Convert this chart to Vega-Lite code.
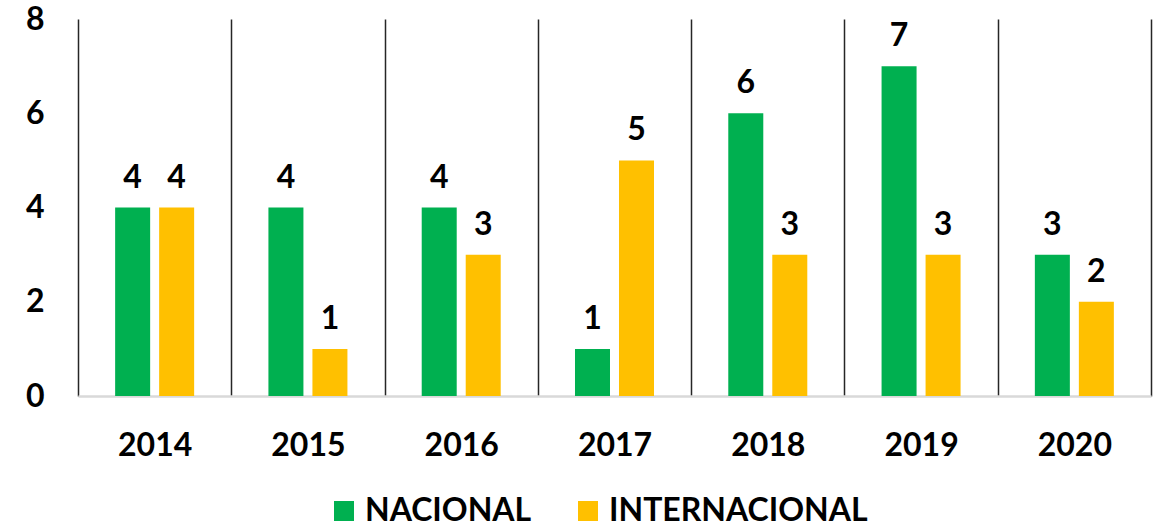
{
  "$schema": "https://vega.github.io/schema/vega-lite/v6.json",
  "width": 1073,
  "height": 377,
  "autosize": {"type": "none"},
  "padding": {"left": 78, "top": 19, "right": 8, "bottom": 133},
  "background": "white",
  "config": {
    "view": {"stroke": null},
    "font": "Lato",
    "axis": {"labelFont": "Lato", "labelFontWeight": "bold", "labelFontSize": 32, "labelColor": "#000000", "title": null}
  },
  "data": {
    "values": [
      {"year": "2014", "tipo": "NACIONAL", "valor": 4},
      {"year": "2014", "tipo": "INTERNACIONAL", "valor": 4},
      {"year": "2015", "tipo": "NACIONAL", "valor": 4},
      {"year": "2015", "tipo": "INTERNACIONAL", "valor": 1},
      {"year": "2016", "tipo": "NACIONAL", "valor": 4},
      {"year": "2016", "tipo": "INTERNACIONAL", "valor": 3},
      {"year": "2017", "tipo": "NACIONAL", "valor": 1},
      {"year": "2017", "tipo": "INTERNACIONAL", "valor": 5},
      {"year": "2018", "tipo": "NACIONAL", "valor": 6},
      {"year": "2018", "tipo": "INTERNACIONAL", "valor": 3},
      {"year": "2019", "tipo": "NACIONAL", "valor": 7},
      {"year": "2019", "tipo": "INTERNACIONAL", "valor": 3},
      {"year": "2020", "tipo": "NACIONAL", "valor": 3},
      {"year": "2020", "tipo": "INTERNACIONAL", "valor": 2}
    ]
  },
  "encoding": {
    "x": {
      "field": "year", "type": "nominal",
      "scale": {"paddingInner": 0, "paddingOuter": 0},
      "axis": {
        "labelAngle": 0, "grid": true, "tickBand": "extent", "gridColor": "#262626", "gridWidth": 1.5,
        "ticks": false, "domainColor": "#d9d9d9", "domainWidth": 2.5, "labelPadding": 34
      }
    },
    "xOffset": {
      "field": "tipo", "type": "nominal", "sort": ["NACIONAL", "INTERNACIONAL"],
      "scale": {"paddingInner": 0.2045, "paddingOuter": 0.844}
    },
    "y": {
      "field": "valor", "type": "quantitative",
      "scale": {"domain": [0, 8], "nice": false},
      "axis": {"values": [0, 2, 4, 6, 8], "grid": false, "domain": false, "ticks": false, "labelPadding": 34}
    }
  },
  "layer": [
    {
      "mark": {"type": "bar"},
      "encoding": {
        "color": {
          "field": "tipo", "type": "nominal",
          "scale": {"domain": ["NACIONAL", "INTERNACIONAL"], "range": ["#00B050", "#FFC000"]},
          "legend": {
            "title": null, "orient": "none", "direction": "horizontal",
            "legendX": 250, "legendY": 476,
            "symbolType": "square", "symbolSize": 400, "symbolStrokeWidth": 0,
            "labelFont": "Lato", "labelFontWeight": "bold", "labelFontSize": 32, "labelColor": "#000000",
            "labelOffset": 5, "columnPadding": 40, "labelLimit": 400
          }
        }
      }
    },
    {
      "mark": {"type": "text", "baseline": "alphabetic", "dy": -20, "font": "Lato", "fontWeight": "bold", "fontSize": 32, "color": "#000000"},
      "encoding": {"text": {"field": "valor", "type": "quantitative"}}
    }
  ]
}
